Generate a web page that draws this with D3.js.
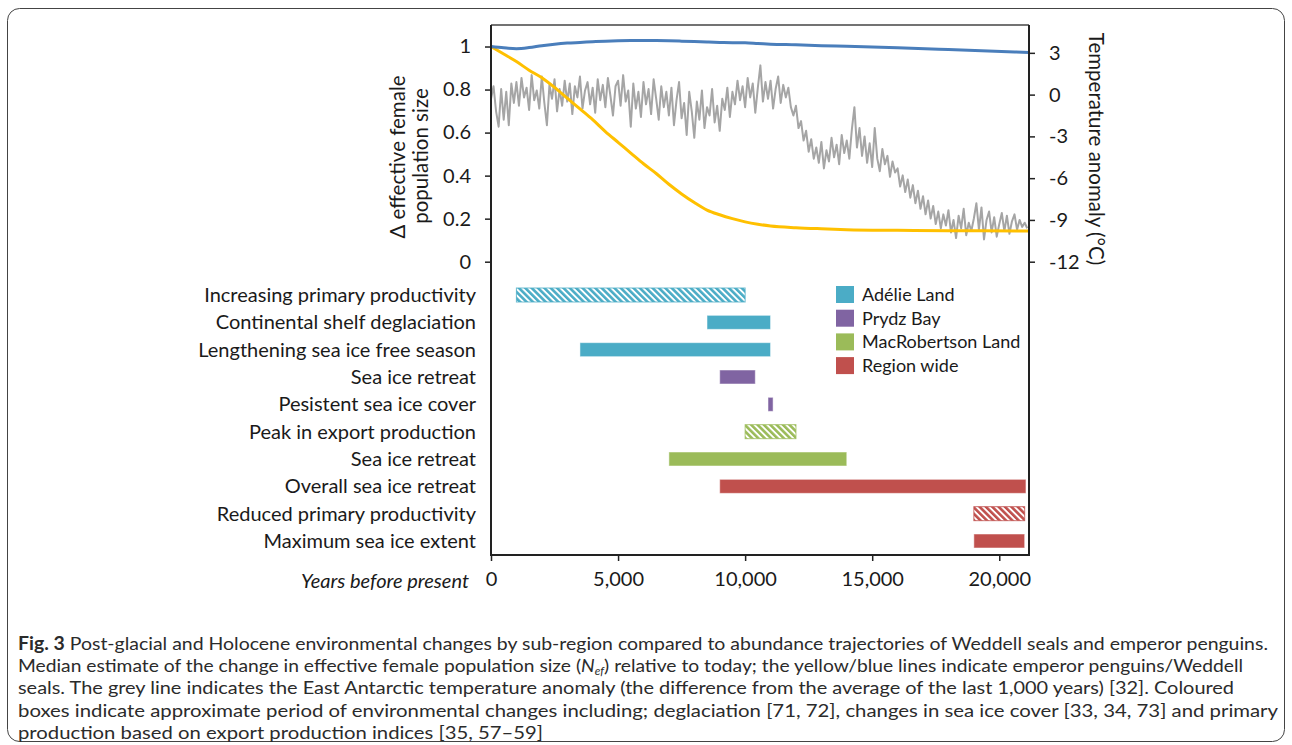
<!DOCTYPE html>
<html>
<head>
<meta charset="utf-8">
<script src="https://cdn.jsdelivr.net/npm/d3@7"></script>
<style>
  body { margin: 0; background: #fff; }
  svg text { font-family: Lato, "Noto Sans", sans-serif; }
</style>
</head>
<body>
<svg id="chart"></svg>
<script>
// ---- data ----
// years before present for the smooth trajectories
const trajYears = [0, 500, 1000, 1500, 2000, 2500, 3000, 3500, 4000, 4500, 5000, 5500, 6000, 6500, 7000,
  7500, 8000, 8500, 9000, 9500, 10000, 10500, 11000, 12000, 13000, 14000, 16000, 18000, 21170];
// emperor penguins (yellow)
const penguinNe = [1.0, 0.965, 0.93, 0.89, 0.855, 0.81, 0.76, 0.71, 0.66, 0.605, 0.555, 0.505, 0.455, 0.41, 0.36,
  0.315, 0.275, 0.24, 0.218, 0.2, 0.185, 0.174, 0.166, 0.158, 0.153, 0.149, 0.146, 0.144, 0.143];
// Weddell seals (blue)
const sealNe = [1.0, 0.994, 0.99, 0.995, 1.004, 1.011, 1.016, 1.019, 1.022, 1.025, 1.027, 1.028, 1.028, 1.028, 1.027,
  1.025, 1.023, 1.021, 1.019, 1.018, 1.017, 1.014, 1.011, 1.008, 1.004, 1.001, 0.994, 0.986, 0.972];

// East Antarctic temperature anomaly (grey), one value every 100 years from 0 BP
const tempStep = 100;
const tempAnomaly = [
  -0.3, 0.6, -1.2, -2.3, 0.4, -1.8, 0.2, -2.2, 0.8, -0.6,
  0.9, -0.8, 1.2, -0.2, 0.5, -1.1, 1.4, -0.4, 0.3, -1.0,
  1.3, -0.6, -2.2, 0.7, -0.3, 1.1, -1.2, 0.4, -0.8, 1.0,
  -0.5, 0.8, -1.4, 0.6, -0.2, 1.3, -1.0, 0.3, 0.9, -0.7,
  0.5, -1.3, 1.1, -0.4, 0.7, -0.9, 1.2, -0.1, -1.5, 0.6,
  1.0, -0.8, 1.4, -0.5, 0.3, -2.3, 0.8, -1.0, 0.2, -1.6,
  0.9, -0.7, 0.4, -1.4, 1.1, -0.3, -1.8, 0.6, -0.9, 0.2,
  -1.5, 0.5, -2.2, -0.4, 0.9, -1.7, -0.6, -2.9, 0.2, -1.2,
  -3.1, -0.5, -1.8, 0.3, -2.4, -0.9, -1.5, 0.4, -2.0, -0.8,
  -2.6, -0.3, -1.1, 0.5, -1.6, 0.2, -0.7, 1.0, -0.4, 0.6,
  -0.9, 1.2, -0.2, 0.8, -1.3, 0.5, 2.1, -0.5, 0.9, -0.3,
  1.0, -1.0, 0.4, 1.3, -0.6, 0.7, -0.2, 0.5, -0.9, -1.5,
  -0.8, -2.4, -1.9, -3.3, -2.6, -4.1, -3.2, -4.6, -3.8, -4.9,
  -3.4, -5.3, -4.0, -4.8, -3.1, -4.5, -3.6, -5.0, -2.9, -4.2,
  -3.3, -4.6, -2.5, -0.9, -3.8, -2.4, -4.4, -3.0, -4.9, -3.5,
  -5.2, -2.4, -4.6, -5.5, -3.9, -5.0, -4.4, -5.9, -4.8, -5.6,
  -5.3, -6.6, -5.8, -7.0, -6.1, -7.4, -6.5, -7.8, -6.9, -8.2,
  -7.3, -8.6, -7.6, -8.9, -8.0, -9.3, -8.4, -9.6, -8.6, -9.4,
  -8.3, -9.9, -9.0, -10.3, -8.7, -9.6, -8.2, -10.1, -9.2, -9.8,
  -8.9, -7.8, -9.7, -8.1, -10.4, -9.0, -8.4, -9.9, -8.8, -10.2,
  -9.3, -8.5, -9.8, -8.7, -10.0, -9.1, -8.6, -9.7, -9.0, -9.5, -9.2, -9.6
];

// environmental change events
const eventLabels = ["Increasing primary productivity", "Continental shelf deglaciation",
  "Lengthening sea ice free season", "Sea ice retreat", "Pesistent sea ice cover",
  "Peak in export production", "Sea ice retreat", "Overall sea ice retreat",
  "Reduced primary productivity", "Maximum sea ice extent"];
const eventStart = [1000, 8500, 3500, 9000, 10900, 10000, 7000, 9000, 19000, 19000];
const eventEnd = [10000, 11000, 11000, 10400, 11100, 12000, 14000, 21050, 21000, 21000];
const eventRegion = ["Adélie Land", "Adélie Land", "Adélie Land", "Prydz Bay", "Prydz Bay",
  "MacRobertson Land", "MacRobertson Land", "Region wide", "Region wide", "Region wide"];
const eventHatched = [true, false, false, false, false, true, false, false, true, false];

const regions = ["Adélie Land", "Prydz Bay", "MacRobertson Land", "Region wide"];
const regionColors = ["#4bacc6", "#8064a2", "#9bbb59", "#c0504d"];

const leftTicks = [0, 0.2, 0.4, 0.6, 0.8, 1];
const rightTicks = [-12, -9, -6, -3, 0, 3];
const yearTicks = [0, 5000, 10000, 15000, 20000];

const captionLines = [
  "Post-glacial and Holocene environmental changes by sub-region compared to abundance trajectories of Weddell seals and emperor penguins.",
  "relative to today; the yellow/blue lines indicate emperor penguins/Weddell",
  "seals. The grey line indicates the East Antarctic temperature anomaly (the difference from the average of the last 1,000 years) [32]. Coloured",
  "boxes indicate approximate period of environmental changes including; deglaciation [71, 72], changes in sea ice cover [33, 34, 73] and primary",
  "production based on export production indices [35, 57\u201359]"
];

// ---- layout ----
const width = 1292, height = 745;
const plotL = 491, plotR = 1029, plotT = 25, zeroY = 261.7, plotB = 555;

const svg = d3.select("#chart").attr("width", width).attr("height", height);
svg.append("rect").attr("width", width).attr("height", height).attr("fill", "#fff");

// rounded frame around figure
svg.append("rect")
  .attr("x", 7.5).attr("y", 8.5).attr("width", 1277).attr("height", 733).attr("rx", 12)
  .attr("fill", "none").attr("stroke", "#444").attr("stroke-width", 1);

const x = d3.scaleLinear().domain([0, 21170]).range([plotL, plotR]);
const yLeft = d3.scaleLinear().domain([0, 1.1]).range([zeroY, plotT]);
const yRight = d3.scaleLinear().domain([-12, 5]).range([zeroY, plotT]);
const rowY = d3.scalePoint().domain(d3.range(eventLabels.length)).range([295, 541]);
const color = d3.scaleOrdinal().domain(regions).range(regionColors);

// hatch patterns
const defs = svg.append("defs");
regions.forEach((r, i) => {
  const p = defs.append("pattern")
    .attr("id", "hatch" + i)
    .attr("patternUnits", "userSpaceOnUse")
    .attr("width", 4.5).attr("height", 4.5)
    .attr("patternTransform", "rotate(-45)");
  p.append("rect").attr("width", 4.5).attr("height", 4.5).attr("fill", "#fff");
  p.append("rect").attr("width", 2.6).attr("height", 4.5).attr("fill", regionColors[i]);
});
defs.append("clipPath").attr("id", "plotClip")
  .append("rect").attr("x", plotL).attr("y", plotT).attr("width", plotR - plotL).attr("height", zeroY - plotT + 10);

// ---- lines ----
const lineG = svg.append("g").attr("clip-path", "url(#plotClip)");
const tempLine = d3.line()
  .x((d, i) => x(i * tempStep))
  .y(d => yRight(d));
lineG.append("path").datum(tempAnomaly)
  .attr("d", tempLine).attr("fill", "none").attr("stroke", "#a5a5a5").attr("stroke-width", 2)
  .attr("stroke-linejoin", "round");

const trajLine = vals => d3.line()
  .x((d, i) => x(trajYears[i]))
  .y(d => yLeft(d))
  .curve(d3.curveMonotoneX)(vals);
lineG.append("path").attr("d", trajLine(penguinNe))
  .attr("fill", "none").attr("stroke", "#ffc000").attr("stroke-width", 3);
lineG.append("path").attr("d", trajLine(sealNe))
  .attr("fill", "none").attr("stroke", "#4a7ebb").attr("stroke-width", 3);

// ---- event bars ----
const barH = 14;
svg.append("g").selectAll("rect")
  .data(eventLabels.map((l, i) => i))
  .join("rect")
  .attr("x", i => x(eventStart[i]))
  .attr("y", i => rowY(i) - barH / 2)
  .attr("width", i => x(eventEnd[i]) - x(eventStart[i]))
  .attr("height", barH)
  .attr("fill", i => eventHatched[i] ? `url(#hatch${regions.indexOf(eventRegion[i])})` : color(eventRegion[i]))
  .attr("stroke", i => eventHatched[i] ? color(eventRegion[i]) : "#fff")
  .attr("stroke-opacity", i => eventHatched[i] ? 0.8 : 0.5)
  .attr("stroke-width", 1);

// ---- axes ----
const fontSize = 20;
const styleAxis = g => {
  g.select(".domain").remove();
  g.selectAll(".tick line").attr("stroke", "#222").attr("stroke-width", 1.5);
  g.selectAll(".tick text").attr("font-size", fontSize).attr("fill", "#1a1a1a").attr("font-family", "Lato, sans-serif");
};

svg.append("g").attr("transform", `translate(${plotL},0)`)
  .call(d3.axisLeft(yLeft).tickValues(leftTicks).tickSize(6).tickPadding(14).tickFormat(d3.format("~g")))
  .call(styleAxis);

svg.append("g").attr("transform", `translate(${plotR},0)`)
  .call(d3.axisRight(yRight).tickValues(rightTicks).tickSize(6).tickPadding(14).tickFormat(d => String(d)))
  .call(styleAxis);

svg.append("g").attr("transform", `translate(0,${plotB})`)
  .call(d3.axisBottom(x).tickValues(yearTicks).tickSize(6).tickPadding(11).tickFormat(d3.format(",")))
  .call(styleAxis);

svg.append("g").attr("transform", `translate(${plotL - 15},0)`)
  .call(d3.axisLeft(rowY).tickSize(0).tickPadding(0).tickFormat(i => eventLabels[i]))
  .call(styleAxis);

// frame lines
svg.append("line").attr("x1", plotL).attr("x2", plotR).attr("y1", plotT).attr("y2", plotT)
  .attr("stroke", "#444").attr("stroke-width", 1.5);
svg.append("line").attr("x1", plotL).attr("x2", plotL).attr("y1", plotT).attr("y2", plotB + 1)
  .attr("stroke", "#222").attr("stroke-width", 2);
svg.append("line").attr("x1", plotR).attr("x2", plotR).attr("y1", plotT).attr("y2", plotB + 1)
  .attr("stroke", "#222").attr("stroke-width", 2);
svg.append("line").attr("x1", plotL).attr("x2", plotR).attr("y1", plotB).attr("y2", plotB)
  .attr("stroke", "#222").attr("stroke-width", 2);

// axis titles
svg.append("text")
  .attr("transform", "translate(405,157) rotate(-90)")
  .attr("text-anchor", "middle").attr("font-size", 20.5).attr("fill", "#1a1a1a")
  .text("\u0394 effective female");
svg.append("text")
  .attr("transform", "translate(428,156) rotate(-90)")
  .attr("text-anchor", "middle").attr("font-size", 20.5).attr("fill", "#1a1a1a")
  .text("population size");
svg.append("text")
  .attr("transform", "translate(1089,149) rotate(90)")
  .attr("text-anchor", "middle").attr("font-size", 20.5).attr("fill", "#1a1a1a")
  .text("Temperature anomaly (\u00b0C)");
svg.append("text")
  .attr("x", 469).attr("y", plotB + 33)
  .attr("text-anchor", "end").attr("font-size", fontSize).attr("font-style", "italic").attr("fill", "#1a1a1a")
  .text("Years before present");

// ---- legend ----
const legend = svg.append("g").attr("transform", "translate(836,286)");
const li = legend.selectAll("g").data(regions).join("g")
  .attr("transform", (d, i) => `translate(0,${i * 23.7})`);
li.append("rect").attr("width", 18).attr("height", 17).attr("fill", d => color(d));
li.append("text").attr("x", 26).attr("y", 15).attr("font-size", 18).attr("fill", "#1a1a1a").text(d => d);

// ---- caption ----
const cap = svg.append("g").attr("fill", "#2b2b2b").attr("font-size", 18);
const capX = 18, capY0 = 650, capDy = 22.2;
const capWidths = [1250, 1225, 1216, 1260, 525];

const t0 = cap.append("text").attr("x", capX).attr("y", capY0)
  .attr("textLength", capWidths[0]).attr("lengthAdjust", "spacingAndGlyphs");
t0.append("tspan").attr("font-weight", "bold").text("Fig. 3");
t0.append("tspan").text(" " + captionLines[0]);

const t1 = cap.append("text").attr("x", capX).attr("y", capY0 + capDy)
  .attr("textLength", capWidths[1]).attr("lengthAdjust", "spacingAndGlyphs");
t1.append("tspan").text("Median estimate of the change in effective female population size (");
t1.append("tspan").attr("font-style", "italic").text("N");
t1.append("tspan").attr("font-style", "italic").attr("font-size", 11).attr("dy", 2.5).text("ef");
t1.append("tspan").attr("dy", -2.5).text(") " + captionLines[1]);

[2, 3, 4].forEach(k => {
  cap.append("text").attr("x", capX).attr("y", capY0 + capDy * k)
    .attr("textLength", capWidths[k]).attr("lengthAdjust", "spacingAndGlyphs")
    .text(captionLines[k]);
});
</script>
</body>
</html>
